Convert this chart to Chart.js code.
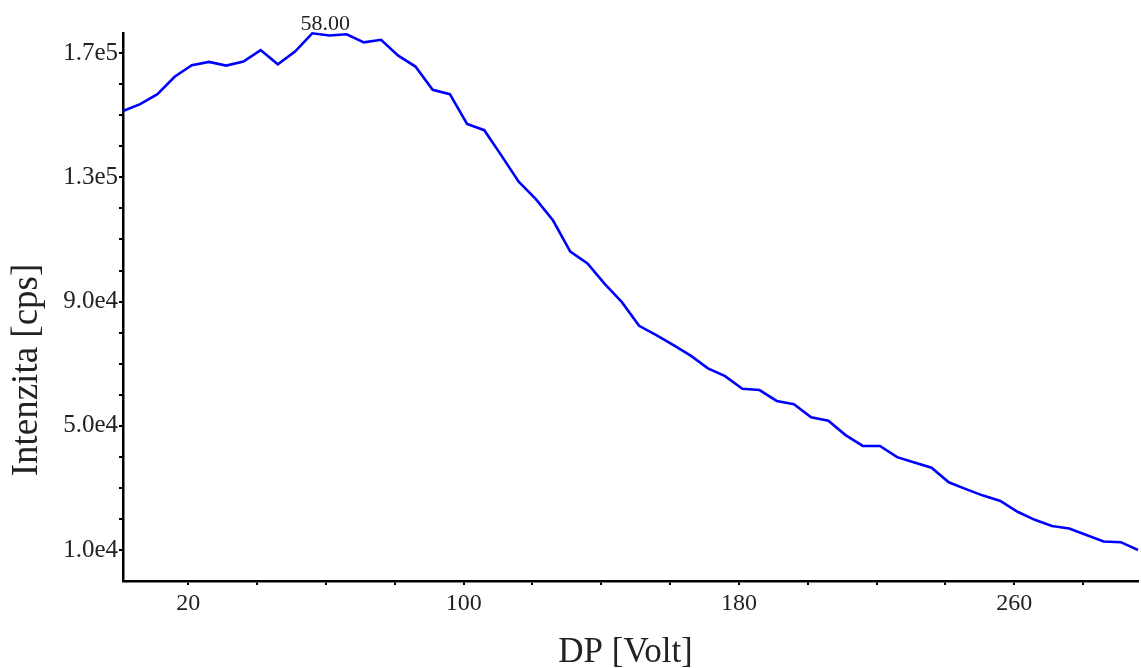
<!DOCTYPE html>
<html>
<head>
<meta charset="utf-8">
<title>DP scan</title>
<script src="https://cdn.jsdelivr.net/npm/chart.js@4.4.0/dist/chart.umd.min.js"></script>
<style>
    html, body { margin: 0; padding: 0; background: #ffffff; }
    #wrap { width: 1141px; height: 668px; }
</style>
</head>
<body>
<div id="wrap"><canvas id="dpChart"></canvas></div>
<script>
/* data */
const dpVolt = [1, 6, 11, 16, 21, 26, 31, 36, 41, 46, 51, 56, 61, 66, 71, 76, 81, 86, 91, 96,
    101, 106, 111, 116, 121, 126, 131, 136, 141, 146, 151, 156, 161, 166, 171, 176, 181, 186, 191, 196,
    201, 206, 211, 216, 221, 226, 231, 236, 241, 246, 251, 256, 261, 266, 271, 276, 281, 286, 291, 296];
const intensity = [151400, 153600, 156800, 162400, 166100, 167200, 166000, 167300, 171000, 166400,
    170500, 176400, 175700, 176100, 173500, 174300, 169200, 165700, 158200, 156800,
    147200, 145200, 137000, 128600, 123000, 116100, 106100, 102300, 95700, 89800,
    82200, 79200, 76000, 72600, 68500, 66000, 61900, 61500, 58000, 56900,
    52700, 51600, 47000, 43500, 43500, 39900, 38200, 36500, 31800, 29600,
    27500, 25800, 22300, 19700, 17700, 16900, 14800, 12700, 12500, 10000];

const xTickValues = [20, 40, 60, 80, 100, 120, 140, 160, 180, 200, 220, 240, 260, 280];
const xTickLabels = [20, 100, 180, 260];
const yTickValues = [10000, 20000, 30000, 40000, 50000, 60000, 70000, 80000, 90000,
    100000, 110000, 120000, 130000, 140000, 150000, 160000, 170000];
const yLabelValues = [10000, 50000, 90000, 130000, 170000];
const yLabelText = ['1.0e4', '5.0e4', '9.0e4', '1.3e5', '1.7e5'];
const peakLabel = '58.00';

const xTitle = 'DP [Volt]';
const yTitle = 'Intenzita [cps]';

const serif = "'Liberation Serif', 'DejaVu Serif', serif";
const textColor = '#222222';

// titles and the peak label are drawn by hand so they sit where the original has them
const annotations = {
    id: 'annotations',
    afterDraw(chart) {
        const ctx = chart.ctx;
        const xs = chart.scales.x;
        const ys = chart.scales.y;
        ctx.save();
        ctx.fillStyle = textColor;

        // peak label
        let peakIdx = 0;
        intensity.forEach((v, i) => { if (v > intensity[peakIdx]) peakIdx = i; });
        const px = xs.getPixelForValue(dpVolt[peakIdx]);
        const py = ys.getPixelForValue(intensity[peakIdx]);
        ctx.font = '22px ' + serif;
        ctx.textAlign = 'center';
        ctx.textBaseline = 'alphabetic';
        ctx.fillText(peakLabel, px + 13, py - 3);

        // x title
        ctx.font = '35px ' + serif;
        ctx.fillText(xTitle, (chart.chartArea.left + chart.chartArea.right) / 2 - 5, 662);

        // y title
        ctx.translate(37, 370);
        ctx.rotate(-Math.PI / 2);
        ctx.font = '37px ' + serif;
        ctx.fillText(yTitle, 0, 0);
        ctx.restore();
    }
};

function createChart() {
    const ctx = document.getElementById('dpChart').getContext('2d');
    new Chart(ctx, {
        type: 'line',
        data: {
            datasets: [{
                data: dpVolt.map((x, i) => ({ x: x, y: intensity[i] })),
                borderColor: '#0000ff',
                borderWidth: 2.6,
                pointRadius: 0,
                tension: 0,
                fill: false,
                clip: false
            }]
        },
        options: {
            responsive: true,
            maintainAspectRatio: false,
            animation: false,
            layout: {
                padding: { top: 33, right: 3, left: 0, bottom: 0 }
            },
            plugins: {
                legend: { display: false },
                tooltip: { enabled: false }
            },
            scales: {
                x: {
                    type: 'linear',
                    min: 1,
                    max: 296,
                    afterBuildTicks: scale => {
                        scale.ticks = xTickValues.map(v => ({ value: v }));
                    },
                    afterFit: scale => { scale.height = 87; },
                    border: { display: true, color: '#000000', width: 2.5 },
                    grid: {
                        display: true,
                        drawOnChartArea: false,
                        drawTicks: true,
                        tickLength: 4,
                        color: '#000000',
                        lineWidth: 2
                    },
                    ticks: {
                        autoSkip: false,
                        maxRotation: 0,
                        padding: 4,
                        color: textColor,
                        font: { family: serif, size: 24 },
                        callback: value => xTickLabels.includes(value) ? String(value) : ''
                    }
                },
                y: {
                    type: 'linear',
                    min: 0,
                    max: 176500,
                    afterBuildTicks: scale => {
                        scale.ticks = yTickValues.map(v => ({ value: v }));
                    },
                    afterFit: scale => { scale.width = 123; },
                    border: { display: true, color: '#000000', width: 2.5 },
                    grid: {
                        display: true,
                        drawOnChartArea: false,
                        drawTicks: true,
                        tickLength: 4,
                        color: '#000000',
                        lineWidth: 2
                    },
                    ticks: {
                        autoSkip: false,
                        padding: 1,
                        color: textColor,
                        font: { family: serif, size: 25 },
                        callback: value => {
                            const k = yLabelValues.indexOf(value);
                            return k >= 0 ? yLabelText[k] : '';
                        }
                    }
                }
            }
        },
        plugins: [annotations]
    });
}

document.addEventListener('DOMContentLoaded', function() {
    createChart();
});
</script>
</body>
</html>
